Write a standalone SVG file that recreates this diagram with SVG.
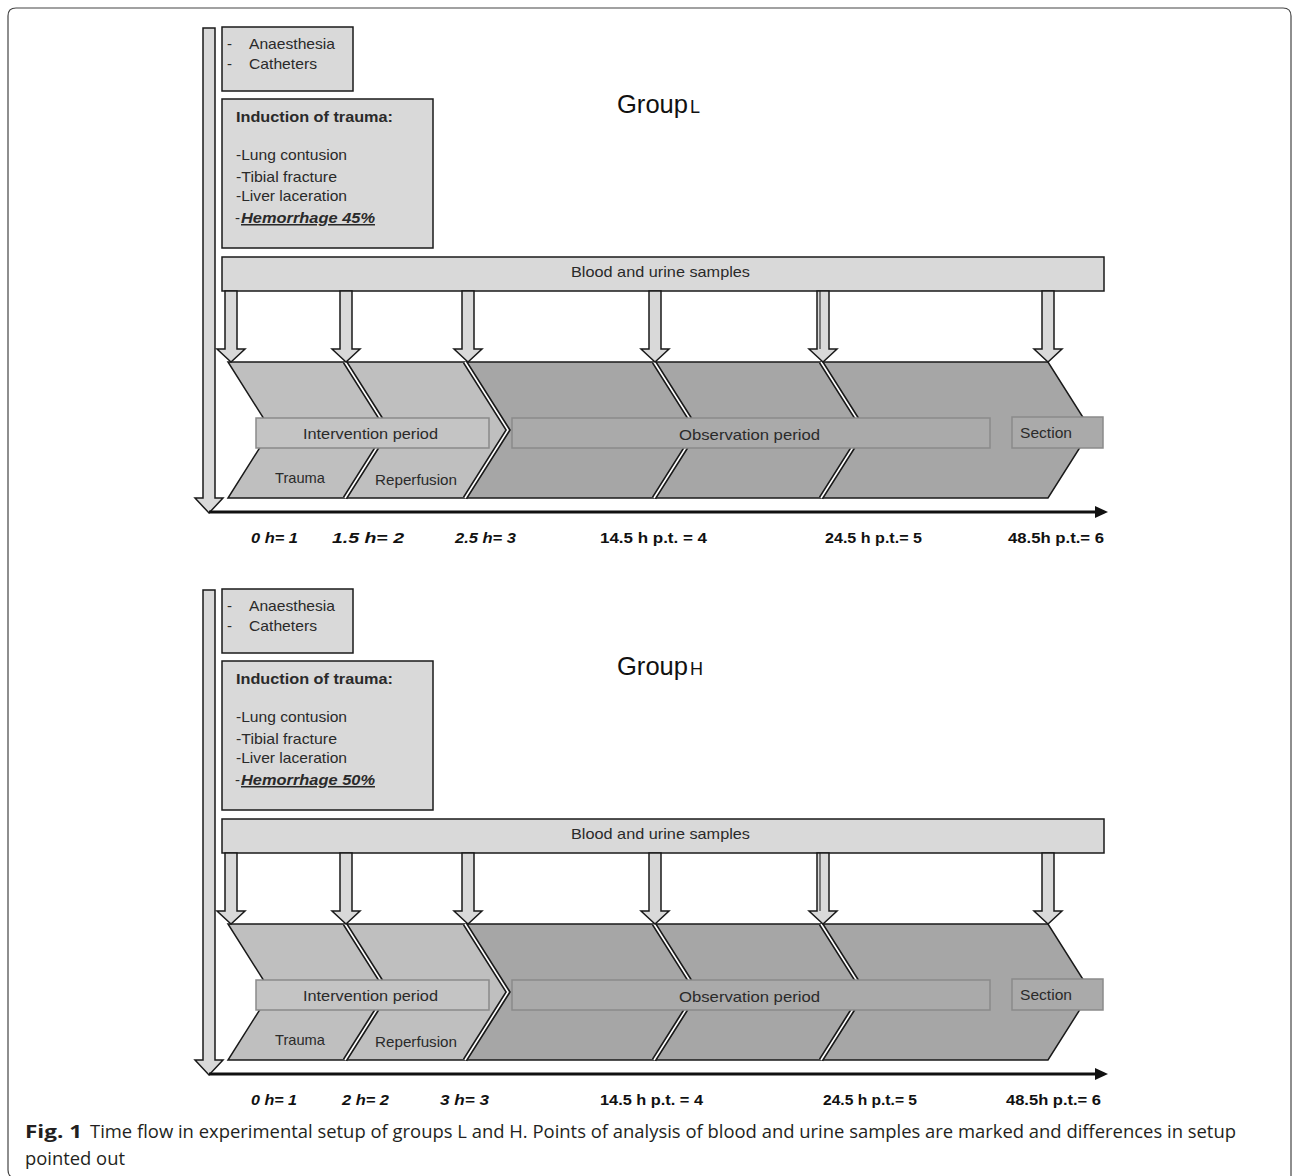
<svg xmlns="http://www.w3.org/2000/svg" width="1292" height="1176" viewBox="0 0 1292 1176">
<style>
.box{fill:#d9d9d9;stroke:#1a1a1a;stroke-width:1.5}
.arr{fill:#d9d9d9;stroke:#1a1a1a;stroke-width:1.5;stroke-linejoin:miter}
.segL{fill:#bfbfbf}
.segD{fill:#a6a6a6}
.outline{fill:none;stroke:#1a1a1a;stroke-width:1.5;stroke-linejoin:miter}
.d1{fill:none;stroke:#1a1a1a;stroke-width:5}
.d2{fill:none;stroke:#ffffff;stroke-width:1.6}
.inL{fill:#c4c4c4;stroke:#8a8a8a;stroke-width:1.5}
.inD{fill:#aaaaaa;stroke:#8a8a8a;stroke-width:1.5}
.t{font-family:"Liberation Sans",Arial,sans-serif;font-size:15px;fill:#2a2a2a}
.b{font-weight:bold}
.tl{font-family:"Liberation Sans",Arial,sans-serif;font-size:14px;font-weight:bold;fill:#111}
.it{font-style:italic}
.grp{font-family:"Liberation Sans",Arial,sans-serif;fill:#111}
.cap{font-family:"Open Sans","Liberation Sans",Arial,sans-serif;font-size:18.5px;fill:#231f20}
.axis{stroke:#111;stroke-width:3}
</style>
<defs>
<g id="chevbase">
<polygon class="segL" points="228,362 345,362 388,430 345,498 228,498 271,430"/>
<polygon class="segL" points="345,362 465,362 508,430 465,498 345,498 388,430"/>
<polygon class="segD" points="465,362 654,362 697,430 654,498 465,498 508,430"/>
<polygon class="segD" points="654,362 821,362 864,430 821,498 654,498 697,430"/>
<polygon class="segD" points="821,362 1048,362 1091,430 1048,498 821,498 864,430"/>
<path class="outline" d="M228,362 H1048 L1091,430 L1048,498 H228 L271,430 Z"/>
<path class="d1" d="M345,362 L388,430 L345,498 M465,362 L508,430 L465,498 M654,362 L697,430 L654,498 M821,362 L864,430 L821,498"/>
<path class="d2" d="M345,362 L388,430 L345,498 M465,362 L508,430 L465,498 M654,362 L697,430 L654,498 M821,362 L864,430 L821,498"/>
</g>
</defs>

<path id="frame" d="M16,1178 Q8,1178 8,1170 V16 Q8,8 16,8 H1283 Q1291,8 1291,16 V1180" fill="none" stroke="#444" stroke-width="1.2"/>

<!-- ================= Group L ================= -->
<g id="panel-L">
<g id="L-title"><text class="grp" x="617" y="113" font-size="25" textLength="71" lengthAdjust="spacingAndGlyphs">Group</text><text class="grp" x="690" y="113" font-size="18">L</text></g>
<g id="L-prep"><rect class="box" x="222" y="27" width="131" height="64"/>
<text class="t" x="227" y="49">-</text><text class="t" x="249" y="49" textLength="86" lengthAdjust="spacingAndGlyphs">Anaesthesia</text>
<text class="t" x="227" y="69">-</text><text class="t" x="249" y="69" textLength="68" lengthAdjust="spacingAndGlyphs">Catheters</text></g>
<g id="L-induction"><rect class="box" x="222" y="99" width="211" height="149"/>
<text class="t b" x="236" y="122" textLength="157" lengthAdjust="spacingAndGlyphs" fill="#333">Induction of trauma:</text>
<text class="t" x="236" y="160" textLength="111" lengthAdjust="spacingAndGlyphs">-Lung contusion</text>
<text class="t" x="236" y="182" textLength="101" lengthAdjust="spacingAndGlyphs">-Tibial fracture</text>
<text class="t" x="236" y="201" textLength="111" lengthAdjust="spacingAndGlyphs">-Liver laceration</text>
<text class="t" x="235" y="223">-</text><text class="t b it" x="241" y="223" textLength="134" lengthAdjust="spacingAndGlyphs" text-decoration="underline">Hemorrhage 45%</text></g>
<g id="L-samples"><rect class="box" x="222" y="257" width="882" height="34"/>
<text class="t" x="571" y="277" textLength="179" lengthAdjust="spacingAndGlyphs">Blood and urine samples</text></g>
<g id="L-phases"><use href="#chevbase"/>
<rect class="inL" x="256" y="418" width="233" height="30"/>
<rect class="inD" x="512" y="418" width="478" height="30"/>
<rect class="inD" x="1012" y="417" width="91" height="31"/>
<text class="t" x="303" y="439" textLength="135" lengthAdjust="spacingAndGlyphs">Intervention  period</text>
<text class="t" x="679" y="440" textLength="141" lengthAdjust="spacingAndGlyphs">Observation  period</text>
<text class="t" x="1020" y="438" textLength="52" lengthAdjust="spacingAndGlyphs">Section</text>
<text class="t" x="275" y="483" textLength="50" lengthAdjust="spacingAndGlyphs">Trauma</text>
<text class="t" x="375" y="485" textLength="82" lengthAdjust="spacingAndGlyphs">Reperfusion</text></g>
<g id="L-times">
<text class="tl it" x="251" y="543" textLength="47" lengthAdjust="spacingAndGlyphs">0 h= 1</text>
<text class="tl it" x="332" y="543" textLength="72" lengthAdjust="spacingAndGlyphs">1.5 h= 2</text>
<text class="tl it" x="455" y="543" textLength="61" lengthAdjust="spacingAndGlyphs">2.5 h= 3</text>
<text class="tl" x="600" y="543" textLength="107" lengthAdjust="spacingAndGlyphs">14.5  h p.t. = 4</text>
<text class="tl" x="825" y="543" textLength="97" lengthAdjust="spacingAndGlyphs">24.5 h p.t.= 5</text>
<text class="tl" x="1008" y="543" textLength="96" lengthAdjust="spacingAndGlyphs">48.5h p.t.= 6</text></g>
<g id="L-connectors">
<polygon class="arr" points="203,28 215,28 215,498 223,498 209,513 195,498 203,498"/>
<line class="axis" x1="209" y1="512" x2="1097" y2="512"/><polygon points="1095,506 1108,512 1095,518" fill="#111"/>
<polygon class="arr" points="225,291 237,291 237,349 245,349 231,362 217,349 225,349"/>
<polygon class="arr" points="340,291 352,291 352,349 360,349 346,362 332,349 340,349"/>
<polygon class="arr" points="462,291 474,291 474,349 482,349 468,362 454,349 462,349"/>
<polygon class="arr" points="649,291 661,291 661,349 669,349 655,362 641,349 649,349"/>
<polygon class="arr" points="817,291 829,291 829,349 837,349 823,362 809,349 817,349"/><line x1="820" y1="291" x2="820" y2="349" stroke="#1a1a1a" stroke-width="1"/>
<polygon class="arr" points="1042,291 1054,291 1054,349 1062,349 1048,362 1034,349 1042,349"/>
</g>
</g>

<!-- ================= Group H ================= -->
<g id="panel-H" transform="translate(0,562)">
<g id="H-title"><text class="grp" x="617" y="113" font-size="25" textLength="71" lengthAdjust="spacingAndGlyphs">Group</text><text class="grp" x="690" y="113" font-size="18">H</text></g>
<g id="H-prep"><rect class="box" x="222" y="27" width="131" height="64"/>
<text class="t" x="227" y="49">-</text><text class="t" x="249" y="49" textLength="86" lengthAdjust="spacingAndGlyphs">Anaesthesia</text>
<text class="t" x="227" y="69">-</text><text class="t" x="249" y="69" textLength="68" lengthAdjust="spacingAndGlyphs">Catheters</text></g>
<g id="H-induction"><rect class="box" x="222" y="99" width="211" height="149"/>
<text class="t b" x="236" y="122" textLength="157" lengthAdjust="spacingAndGlyphs" fill="#333">Induction of trauma:</text>
<text class="t" x="236" y="160" textLength="111" lengthAdjust="spacingAndGlyphs">-Lung contusion</text>
<text class="t" x="236" y="182" textLength="101" lengthAdjust="spacingAndGlyphs">-Tibial fracture</text>
<text class="t" x="236" y="201" textLength="111" lengthAdjust="spacingAndGlyphs">-Liver laceration</text>
<text class="t" x="235" y="223">-</text><text class="t b it" x="241" y="223" textLength="134" lengthAdjust="spacingAndGlyphs" text-decoration="underline">Hemorrhage 50%</text></g>
<g id="H-samples"><rect class="box" x="222" y="257" width="882" height="34"/>
<text class="t" x="571" y="277" textLength="179" lengthAdjust="spacingAndGlyphs">Blood and urine samples</text></g>
<g id="H-phases"><use href="#chevbase"/>
<rect class="inL" x="256" y="418" width="233" height="30"/>
<rect class="inD" x="512" y="418" width="478" height="30"/>
<rect class="inD" x="1012" y="417" width="91" height="31"/>
<text class="t" x="303" y="439" textLength="135" lengthAdjust="spacingAndGlyphs">Intervention  period</text>
<text class="t" x="679" y="440" textLength="141" lengthAdjust="spacingAndGlyphs">Observation  period</text>
<text class="t" x="1020" y="438" textLength="52" lengthAdjust="spacingAndGlyphs">Section</text>
<text class="t" x="275" y="483" textLength="50" lengthAdjust="spacingAndGlyphs">Trauma</text>
<text class="t" x="375" y="485" textLength="82" lengthAdjust="spacingAndGlyphs">Reperfusion</text></g>
<g id="H-times">
<text class="tl it" x="251" y="543" textLength="46" lengthAdjust="spacingAndGlyphs">0 h= 1</text>
<text class="tl it" x="342" y="543" textLength="47" lengthAdjust="spacingAndGlyphs">2 h= 2</text>
<text class="tl it" x="440" y="543" textLength="49" lengthAdjust="spacingAndGlyphs">3 h= 3</text>
<text class="tl" x="600" y="543" textLength="103" lengthAdjust="spacingAndGlyphs">14.5  h p.t. = 4</text>
<text class="tl" x="823" y="543" textLength="94" lengthAdjust="spacingAndGlyphs">24.5 h p.t.= 5</text>
<text class="tl" x="1006" y="543" textLength="95" lengthAdjust="spacingAndGlyphs">48.5h p.t.= 6</text></g>
<g id="H-connectors">
<polygon class="arr" points="203,28 215,28 215,498 223,498 209,513 195,498 203,498"/>
<line class="axis" x1="209" y1="512" x2="1097" y2="512"/><polygon points="1095,506 1108,512 1095,518" fill="#111"/>
<polygon class="arr" points="225,291 237,291 237,349 245,349 231,362 217,349 225,349"/>
<polygon class="arr" points="340,291 352,291 352,349 360,349 346,362 332,349 340,349"/>
<polygon class="arr" points="462,291 474,291 474,349 482,349 468,362 454,349 462,349"/>
<polygon class="arr" points="649,291 661,291 661,349 669,349 655,362 641,349 649,349"/>
<polygon class="arr" points="817,291 829,291 829,349 837,349 823,362 809,349 817,349"/><line x1="820" y1="291" x2="820" y2="349" stroke="#1a1a1a" stroke-width="1"/>
<polygon class="arr" points="1042,291 1054,291 1054,349 1062,349 1048,362 1034,349 1042,349"/>
</g>
</g>

<g id="caption">
<text class="cap" x="25" y="1138" font-weight="bold" textLength="57" lengthAdjust="spacingAndGlyphs">Fig. 1</text>
<text class="cap" x="90" y="1138" textLength="1146" lengthAdjust="spacingAndGlyphs">Time flow in experimental setup of groups L and H. Points of analysis of blood and urine samples are marked and differences in setup</text>
<text class="cap" x="25" y="1165" textLength="100" lengthAdjust="spacingAndGlyphs">pointed out</text>
</g>
</svg>
